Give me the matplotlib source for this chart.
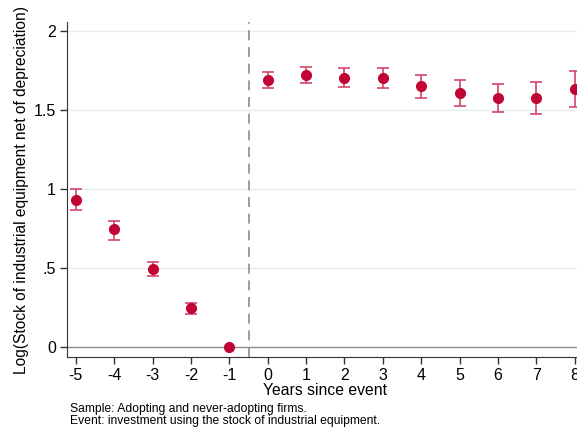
import matplotlib
matplotlib.use("Agg")
import matplotlib.pyplot as plt
import numpy as np

plt.rcParams['font.family'] = ['Liberation Sans', 'DejaVu Sans']

years = [-5, -4, -3, -2, -1, 0, 1, 2, 3, 4, 5, 6, 7, 8]
coef = [0.93, 0.747, 0.494, 0.247, 0.0, 1.69, 1.723, 1.705, 1.703, 1.65, 1.608, 1.576, 1.576, 1.635]
ci_low = [0.87, 0.68, 0.45, 0.21, 0.0, 1.64, 1.67, 1.647, 1.639, 1.576, 1.525, 1.485, 1.472, 1.519]
ci_high = [1.00, 0.80, 0.54, 0.28, 0.0, 1.74, 1.775, 1.763, 1.764, 1.723, 1.69, 1.667, 1.679, 1.75]
yticks = [0, 0.5, 1, 1.5, 2]
ytick_labels = ["0", ".5", "1", "1.5", "2"]

fig = plt.figure(figsize=(5.77, 4.28), dpi=100)
ax = fig.add_axes([67/577, 71/428, 516.6/577, 335/428])

ax.set_xlim(-5.23, 8.23)
ax.set_ylim(-0.0633, 2.057)

for y in yticks:
    if y == 0:
        continue
    ax.axhline(y, color='#e6eff0', lw=1.0, zorder=0)
ax.axhline(0, color='#8c8c8c', lw=1.0, zorder=1)
ax.axvline(-0.5, color='#8c8c8c', lw=1.2, ls=(0, (6, 4)), zorder=1)

x = np.array(years)
c = np.array(coef)
lo = np.array(ci_low)
hi = np.array(ci_high)
mask = hi > lo
ax.errorbar(x[mask], c[mask], yerr=[c[mask] - lo[mask], hi[mask] - c[mask]],
            fmt='none', ecolor='#d2456b', elinewidth=1.2, capsize=4, capthick=1.2, zorder=2)
ax.plot(x, c, 'o', color='#c10534', ms=7, zorder=3)

ax.set_xticks(years)
ax.set_xticklabels([str(v) for v in years])
ax.set_yticks(yticks)
ax.set_yticklabels(ytick_labels)
ax.tick_params(axis='both', labelsize=11.5, length=5, width=1, color='#333333', pad=3)

for s in ['top', 'right']:
    ax.spines[s].set_visible(False)
ax.spines['left'].set_color('#333333')
ax.spines['bottom'].set_color('#333333')

ax.set_xlabel("Years since event", fontsize=11.3, labelpad=0)
ax.set_ylabel("Log(Stock of industrial equipment net of depreciation)", fontsize=11.2, labelpad=3)

fig.text(70/577, 1 - 409/428, "Sample: Adopting and never-adopting firms.", fontsize=8.7, va='center')
fig.text(70/577, 1 - 421/428, "Event: investment using the stock of industrial equipment.", fontsize=8.7, va='center')

fig.savefig("out.png", dpi=100)
